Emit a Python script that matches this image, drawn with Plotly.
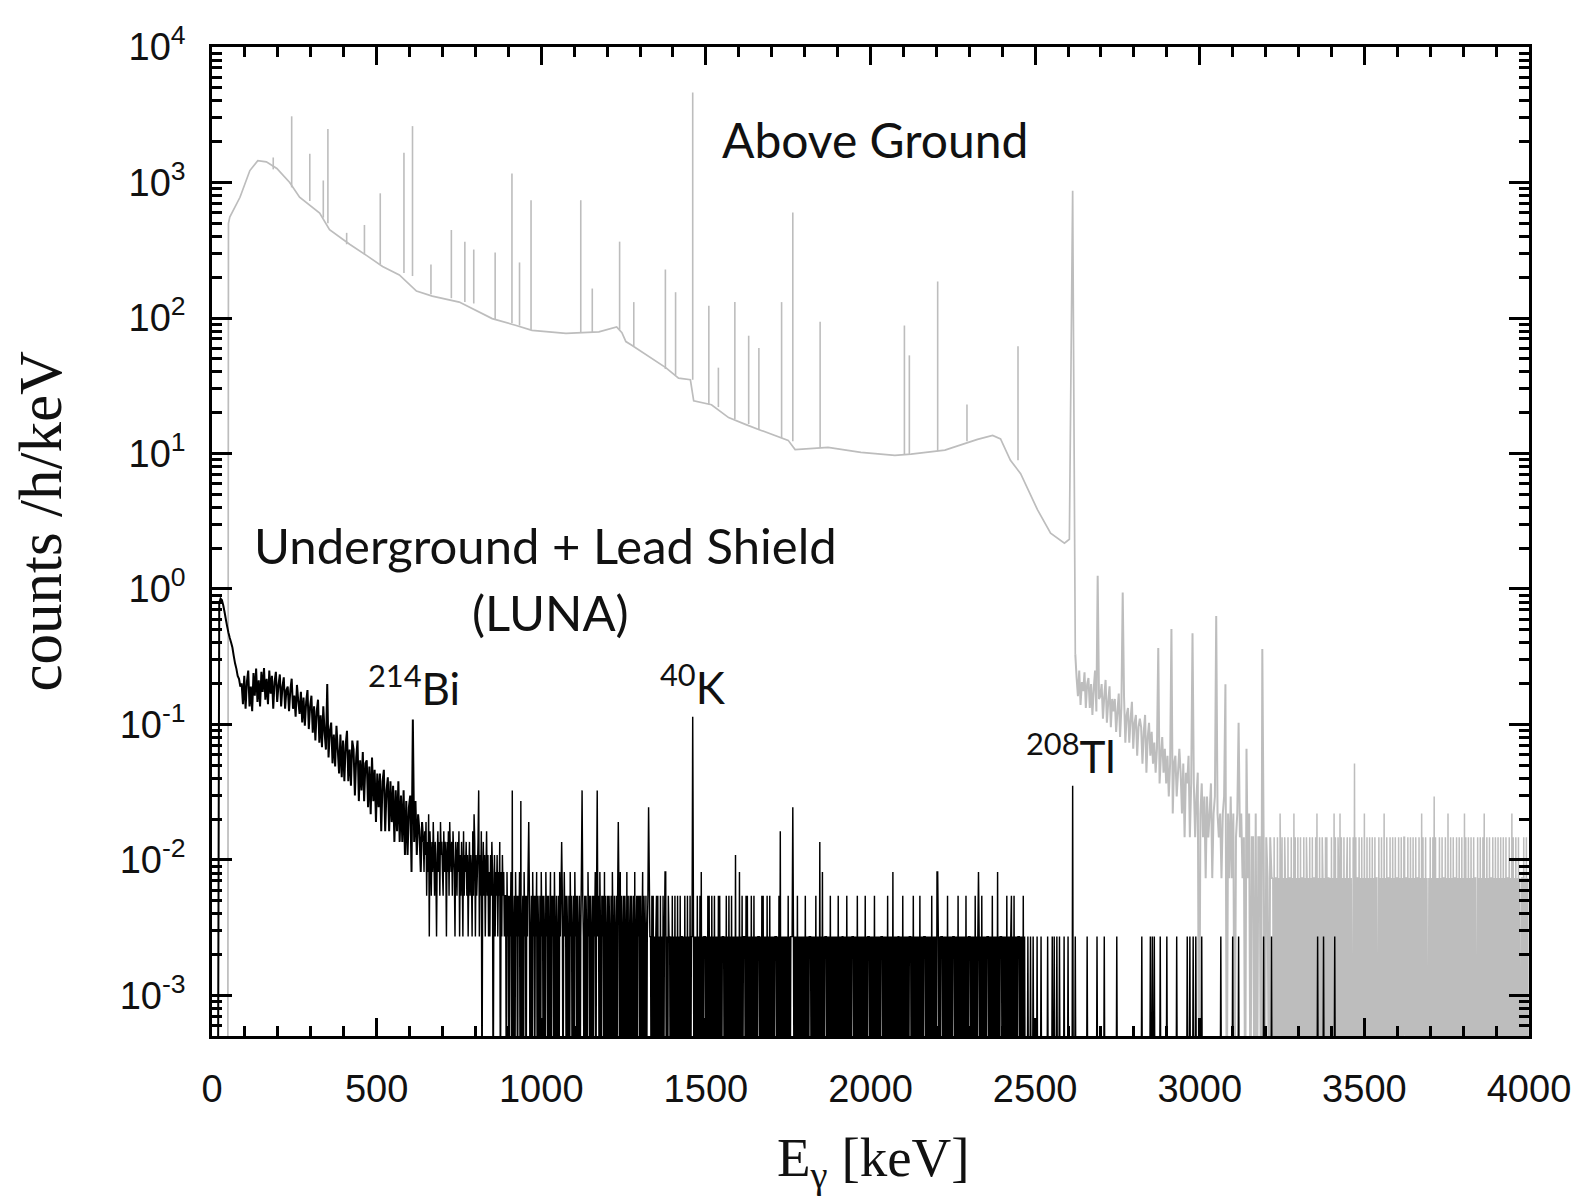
import plotly.graph_objects as go

# ------------------------------------------------------------------ data
UNIT_LUNA = 0.00272         # counts/h/keV of one count in a bin (underground)
UNIT_AG = 0.00735           # counts/h/keV of one count in a bin (above ground)
ZERO_FLOOR = 1e-4           # empty bins (0 counts) sit below the log-axis floor

# --- Above ground: smooth continuum (keV, counts/h/keV)
ag_cont_energy = [48, 50, 54, 85, 115, 139, 165, 197, 236, 266, 327, 357, 418, 469,
                  518, 569, 621, 669, 751, 851, 924, 972, 1075, 1175, 1229, 1245,
                  1257, 1275, 1378, 1417, 1453, 1463, 1517, 1569, 1620, 1668, 1750,
                  1771, 1871, 1971, 2074, 2123, 2226, 2325, 2371, 2395, 2425, 2456,
                  2507, 2547, 2589, 2604]
ag_cont_value = [0, 500, 556, 778, 1225, 1450, 1420, 1270, 1000, 778, 595, 448, 350,
                 290, 240, 208, 158, 145, 131, 99, 88, 81, 77, 79, 86, 78, 67, 63, 43,
                 36, 35, 24.5, 22.9, 18.4, 16.4, 14.8, 12.5, 10.7, 11.1, 10.2, 9.7,
                 9.9, 10.6, 12.7, 13.6, 12.8, 8.9, 7.1, 3.85, 2.58, 2.18, 2.33]

# --- Above ground: gamma lines on the continuum (keV, base, top)
ag_line_energy = [186, 242, 297, 338, 352, 409, 463, 511, 583, 609, 665, 727, 768,
                  795, 860, 911, 934, 969, 1120, 1155, 1238, 1281, 1377, 1408, 1460,
                  1509, 1538, 1588, 1630, 1661, 1730, 1764, 1847, 2103, 2118, 2204,
                  2293, 2448]
ag_line_base = [1250, 920, 730, 550, 500, 350, 295, 250, 215, 204, 150, 140, 131,
                128, 98, 92, 88, 82, 78, 78, 82, 62, 42, 38, 35, 23, 22, 18, 16.5, 15,
                13, 12.3, 11, 9.8, 9.8, 10.4, 12.3, 8.9]
ag_line_top = [1530, 3080, 1630, 1035, 2480, 425, 486, 832, 1660, 2606, 248, 446,
               366, 320, 304, 1165, 257, 740, 740, 165, 366, 131, 228, 155, 4620, 123,
               43, 131, 74, 60, 131, 600, 94, 88, 53, 186, 23, 62]

# --- Above ground: 208Tl 2614 keV line
ag_tl_energy = 2614
ag_tl_top = 870

# --- Above ground above 2614 keV: counts per bin
#     4 keV bins from 2622 keV, then 2 keV bins from 3222 keV
ag_tail4_start = 2622
ag_tail4_counts = [45, 30, 22, 34, 19, 28, 24, 33, 18, 27,
                   30, 18, 27, 16, 25, 34, 17, 26, 21, 22,
                   27, 15, 22, 29, 14, 20, 26, 13, 21, 17,
                   21, 12, 17, 23, 11, 18, 15, 22, 10, 16,
                   18, 10, 15, 20, 9, 14, 16, 8, 13, 15,
                   13, 7, 12, 16, 6, 11, 14, 8, 12, 7,
                   10, 6, 9, 12, 5, 8, 11, 6, 9, 5,
                   8, 4, 7, 9, 3, 7, 8, 4, 6, 9,
                   6, 3, 7, 2, 6, 5, 8, 2, 5, 6,
                   5, 2, 4, 6, 0, 3, 5, 2, 4, 1,
                   4, 2, 3, 5, 1, 3, 4, 1, 3, 2,
                   3, 1, 3, 4, 2, 0, 3, 1, 4, 1,
                   3, 0, 2, 3, 0, 2, 3, 1, 2, 0,
                   2, 1, 3, 0, 2, 2, 0, 3, 0, 2,
                   2, 0, 1, 2, 0, 2, 1, 0, 2, 1]
ag_tail2_start = 3222
ag_tail2_digits = ("10201102010310201021010201102010302010201020110201"
                   "02101020102011020301020102101020201101020103020102"
                   "10302010201012010201002010201102010201030102010201"
                   "02010201100201020103010201102010201020110201020102"
                   "20110201020102010201102010302010201001020102010201"
                   "01020102011020103010201020110201020102010302010201"
                   "02010201100201020102030102010201102010201020102010"
                   "201020110201030201020102010011020102010")
ag_tail_peak_energy = [2689, 2765, 2876, 2916, 2977, 3049, 3077, 3119, 3143, 3189, 3470, 3712]
ag_tail_peak_counts = [170, 128, 50, 69, 64, 86, 27, 14, 9, 49, 7, 4]

# --- Underground + lead shield (LUNA)
#     4 keV bins (centre 2 keV first) up to 640 keV, then 2 keV bins from 642 keV
lu_low_counts = [0, 0, 0, 0, 0, 290, 312, 305, 280, 250,
                 220, 195, 175, 160, 148, 136, 118, 104, 95, 84,
                 80, 70, 74,
                 52, 84, 48, 76, 92, 50, 70, 46, 88, 60, 95, 54, 78, 50, 90, 64, 96,
                 56, 80, 52, 92, 62, 84, 48, 76, 90, 54, 72, 86, 50, 70, 82, 48, 66,
                 70, 46, 66, 80, 48, 60, 42, 72, 55, 44,
                 64, 38, 58, 36, 54, 66, 34, 50, 60, 32,
                 50, 28, 46, 56, 27, 43, 25, 50, 32, 24,
                 40, 21, 33, 38, 19, 31, 18, 36, 24, 16,
                 31, 15, 28, 14, 26, 33, 14, 24, 13, 28,
                 24, 11, 21, 28, 10, 20, 12, 23, 10, 19,
                 20, 9, 18, 8, 21, 10, 17, 7, 16, 9,
                 16, 6, 14, 17, 6, 12, 15, 6, 14, 7,
                 13, 5, 12, 6, 14, 5, 11, 5, 12, 4,
                 10, 4, 9, 11, 3, 10, 5, 10, 4, 8,
                 6, 3, 7]
lu_mid_start = 642
lu_mid_digits = (
    # 642 - 890 keV
    "53647253816425374253146352745326354153627435264315"
    "42536142531624352413524316235142353142603524136241"
    "3142530241324132503142312"
    # 892 - 1330 keV
    "20312021302012031202130201203120213020120312021302"
    "10203120210312020130212031020120312020131202102031"
    "20120312021020130210202103120201202130201203102120"
    "30201202102031020120212030201202103020120210203012"
    "02120201302102012031"
    # 1332 - 2470 keV
    "10202010120201020102010301021101020102010201020110"
    "10201020102011020101020102030101110102020102010201"
    "01020201011101020102010201010201010301020111020201"
    "01020102010101110102020101020102010101011101020201"
    "01010101020101110101010201010101010201010111010101"
    "02010101010301011101010201010101010201010110101020"
    "10101011101010201010101010201011101010102010101010"
    "11101010102010101030101010110101020101010101110102"
    "01010101020101011101010101020101010301010111010101"
    "02010101011101010201010101010201011101010102010101"
    "01020101010111010102010101030101110101010201010120"
    "10201010111010102010")
lu_sparse_end = 4000
lu_single_count_energy = [2478, 2486, 2494, 2506, 2518, 2538, 2552, 2558, 2566, 2574,
                          2588, 2600, 2622, 2658, 2688, 2710, 2748, 2824, 2850, 2856,
                          2862, 2880, 2900, 2930, 2962, 2970, 2980, 2988, 3006, 3064,
                          3100, 3118, 3194, 3218, 3358, 3376, 3410]
lu_peak_energy = [351, 609, 796, 811, 912, 938, 963, 1063, 1124, 1170, 1235, 1326,
                  1377, 1460, 1590, 1726, 1764, 1847, 2204, 2329, 2614]
lu_peak_counts = [73, 40, 8, 12, 12, 10, 7, 5, 12, 12, 7, 9, 3, 42, 4, 6, 9, 5, 3, 3, 13]

# ------------------------------------------------------------------ build traces
def to_plot(v):
    return v if v > 0 else ZERO_FLOOR


def nearest(xs, e):
    return min(range(len(xs)), key=lambda i: abs(xs[i] - e))


# underground
lu_x = [2 + 4 * i for i in range(len(lu_low_counts))]
lu_c = list(lu_low_counts)
mid = [int(c) for c in lu_mid_digits]
lu_x += [lu_mid_start + 2 * j for j in range(len(mid))]
lu_c += mid
e = lu_x[-1] + 2
while e < lu_sparse_end:
    lu_x.append(e)
    lu_c.append(1 if e in lu_single_count_energy else 0)
    e += 2
for en, c in zip(lu_peak_energy, lu_peak_counts):
    k = nearest(lu_x, en)
    lu_c[k] = max(lu_c[k], c)
lu_y = [to_plot(c * UNIT_LUNA) for c in lu_c]
n_low = len(lu_low_counts)

# above ground tail
t4 = list(ag_tail4_counts)
t2 = [int(c) for c in ag_tail2_digits]
tail_x = ([ag_tail4_start + 4 * j for j in range(len(t4))] +
          [ag_tail2_start + 2 * j for j in range(len(t2))])
tail_c = t4 + t2
for en, c in zip(ag_tail_peak_energy, ag_tail_peak_counts):
    k = nearest(tail_x, en)
    tail_c[k] = max(tail_c[k], c)
cont_x = list(ag_cont_energy) + [ag_tl_energy]
cont_y = [to_plot(v) for v in ag_cont_value] + [ag_tl_top]
tail_y = [to_plot(c * UNIT_AG) for c in tail_c]
n4 = len(t4)

line_x, line_y = [], []
for en, b, t in zip(ag_line_energy, ag_line_base, ag_line_top):
    line_x += [en, en, None]
    line_y += [b, t, None]

GREY = "#bdbdbd"
fig = go.Figure()
fig.add_trace(go.Scatter(x=line_x, y=line_y, mode="lines",
                         line=dict(color=GREY, width=1.6, simplify=False),
                         hoverinfo="skip", showlegend=False))
fig.add_trace(go.Scatter(x=cont_x + tail_x[:1], y=cont_y + tail_y[:1], mode="lines",
                         name="Above Ground",
                         line=dict(color=GREY, width=1.7, simplify=False),
                         showlegend=False))
fig.add_trace(go.Scatter(x=tail_x[:n4 + 1], y=tail_y[:n4 + 1], mode="lines",
                         name="Above Ground",
                         line=dict(color=GREY, width=2.0, simplify=False),
                         showlegend=False))
fig.add_trace(go.Scatter(x=tail_x[n4:], y=tail_y[n4:], mode="lines",
                         name="Above Ground",
                         line=dict(color=GREY, width=1.5, simplify=False),
                         showlegend=False))
fig.add_trace(go.Scatter(x=lu_x[:n_low + 1], y=lu_y[:n_low + 1], mode="lines",
                         name="LUNA", line=dict(color="black", width=2.0, simplify=False),
                         showlegend=False))
fig.add_trace(go.Scatter(x=lu_x[n_low:], y=lu_y[n_low:], mode="lines", name="LUNA",
                         line=dict(color="black", width=1.45, simplify=False),
                         showlegend=False))

# ------------------------------------------------------------------ axes
x_major = [0, 500, 1000, 1500, 2000, 2500, 3000, 3500, 4000]
y_exp = [-3, -2, -1, 0, 1, 2, 3, 4]
y_major = [10.0 ** k for k in y_exp]
y_text = ["10<sup>%d</sup>" % k for k in y_exp]
y_minor = [m * 10.0 ** k for k in range(-4, 4) for m in range(2, 10)]

tick_font = dict(family="Liberation Sans, Arial", size=38, color="#111")
fig.update_xaxes(range=[0, 4000], tickmode="array", tickvals=x_major,
                 ticktext=[str(v) for v in x_major], ticks="inside", ticklen=18,
                 tickwidth=2.5, tickcolor="black", showline=True, linewidth=2.5,
                 linecolor="black", mirror="allticks", showgrid=False, zeroline=False,
                 tickfont=tick_font, ticklabelstandoff=18,
                 minor=dict(ticks="inside", ticklen=10, tickwidth=2.5,
                            tickcolor="black", dtick=100, showgrid=False))
fig.update_yaxes(type="log", range=[-3.299, 4], tickmode="array", tickvals=y_major,
                 ticktext=y_text, ticks="inside", ticklen=20, tickwidth=2.5,
                 tickcolor="black", showline=True, linewidth=2.5, linecolor="black",
                 mirror="allticks", showgrid=False, zeroline=False, tickfont=tick_font,
                 ticklabelstandoff=16,
                 minor=dict(ticks="inside", ticklen=10, tickwidth=2.5,
                            tickcolor="black", tickmode="array", tickvals=y_minor,
                            showgrid=False))

label_font = dict(family="Lato, Carlito, Calibri, sans-serif", size=49, color="#111")
ann = [
    dict(x=2015, y=3.32, text="Above Ground", size=48),
    dict(x=1014, y=0.324, text="Underground + Lead Shield"),
    dict(x=1028, y=-0.173, text="(LUNA)"),
    dict(x=613, y=-0.714, text="<sup>214</sup>Bi", size=44),
    dict(x=1462, y=-0.707, text="<sup>40</sup>K", size=44),
    dict(x=2610, y=-1.213, text="<sup>208</sup>Tl", size=44),
]
for a in ann:
    f = dict(label_font)
    if "size" in a:
        f["size"] = a["size"]
    fig.add_annotation(x=a["x"], y=a["y"], xref="x", yref="y", text=a["text"],
                       showarrow=False, font=f, xanchor="center",
                       yanchor="middle")

title_font = dict(family="Liberation Serif, Times New Roman, serif", size=61, color="#111")
fig.add_annotation(x=-0.130, y=0.521, xref="paper", yref="paper",
                   text="counts /h/keV", textangle=-90, showarrow=False,
                   font=title_font, xanchor="center", yanchor="middle")
fig.add_annotation(x=0.502, y=-0.127, xref="paper", yref="paper",
                   text="E<sub>γ</sub> [keV]", showarrow=False,
                   font=dict(title_font, size=55), xanchor="center", yanchor="middle")

# the page body adds an 8 px margin: size the figure so the plot area lands on
# the reference position (x 212-1533, y 35-1036 in the 1583x1202 window)
fig.update_layout(width=1575, height=1194, autosize=False,
                  margin=dict(l=204, r=50, t=27, b=166),
                  paper_bgcolor="white", plot_bgcolor="white",
                  showlegend=False)

fig.write_html("out.html", config={"displayModeBar": False})
